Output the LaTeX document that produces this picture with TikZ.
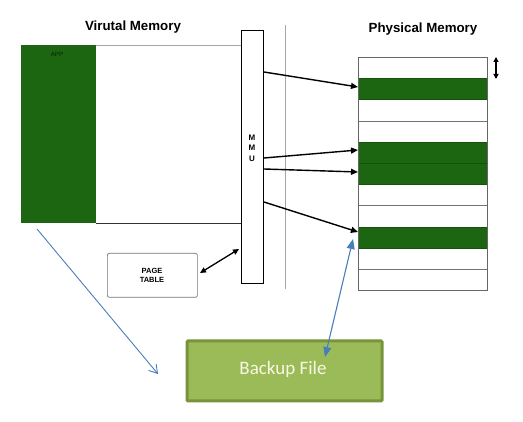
\documentclass[tikz,border=0pt]{standalone}
\usepackage{fontspec}
\setmainfont{Liberation Sans}
\newfontfamily\calib{Carlito}
\usetikzlibrary{arrows.meta}
\definecolor{pgreen}{RGB}{28,102,18}
\definecolor{bfill}{RGB}{155,187,89}
\definecolor{bdraw}{RGB}{119,147,60}
\definecolor{bblue}{RGB}{74,126,187}
\definecolor{btext}{RGB}{248,248,225}
\tikzset{
  title/.style={font=\bfseries\fontsize{13.3}{15}\selectfont, inner sep=0pt},
  blk/.style={black, line width=1.4pt, -{Triangle[length=7pt,width=6pt]}},
  memrow/.style={draw=black!55, line width=0.7pt, minimum width=129pt, minimum height=21.2pt, inner sep=0pt, anchor=north west},
  greenrow/.style={memrow, fill=pgreen, draw=pgreen!80!black},
  small/.style={font=\bfseries\fontsize{7.5}{9}\selectfont, inner sep=0pt, align=center},
}
\begin{document}
\begin{tikzpicture}[x=1pt,y=-1pt]
\useasboundingbox (0,0) rectangle (523,422);
% titles
\node[title] (vt) at (133,27) {Virutal Memory};
\node[title] (pt) at (423,29) {Physical Memory};
% virtual memory
\draw[black!35, line width=0.7pt] (96,45) -- (241,45);
\draw[black!80, line width=0.8pt] (96,223) -- (241,223);
\node[fill=pgreen, minimum width=75pt, minimum height=178pt, inner sep=0pt, anchor=north west] (app) at (21,45) {};
\node[font=\fontsize{6}{7}\selectfont, text=black!70!pgreen, inner sep=0pt] (applbl) at (57,54) {APP};
% MMU
\node[draw=black, line width=1.3pt, minimum width=22pt, minimum height=253pt, inner sep=0pt, anchor=north west, fill=white] (mmu) at (241,30) {};
\node[small, font=\bfseries\fontsize{8}{10.5}\selectfont] (mmulbl) at (252,148) {M\\M\\U};
% divider
\draw[black!35, line width=0.7pt] (285,25) -- (285,289);
% physical memory rows
\foreach \i in {0,...,10} {
  \pgfmathsetmacro{\yy}{57+21.2*\i}
  \node[memrow] (r\i) at (358,\yy) {};
}
\foreach \i in {1,4,5,8} {
  \pgfmathsetmacro{\yy}{57+21.2*\i}
  \node[greenrow] (g\i) at (358,\yy) {};
}
\draw[black!60, line width=0.8pt] (358,57) rectangle (487,290);
% size arrow
\coordinate (sa) at (496,57);
\coordinate (sb) at (496,79);
\draw[black, line width=1.2pt, {Triangle[length=5pt,width=5pt]}-{Triangle[length=5pt,width=5pt]}] (sa) -- (sb);
% MMU to physical arrows
\coordinate (m1) at (264,72);
\coordinate (m2) at (264,158);
\coordinate (m3) at (264,169);
\coordinate (m4) at (264,202);
\coordinate (p1) at (358,87);
\coordinate (p2) at (358,150);
\coordinate (p3) at (358,172);
\coordinate (p4) at (358,232);
\draw[blk] (m1) -- (p1);
\draw[blk] (m2) -- (p2);
\draw[blk] (m3) -- (p3);
\draw[blk] (m4) -- (p4);
% page table
\node[draw=black!55, line width=0.7pt, rounded corners=2pt, minimum width=90pt, minimum height=44pt, inner sep=0pt, anchor=north west] (ptab) at (107,253) {};
\node[small] (ptlbl) at (152,275.5) {PAGE\\TABLE};
\coordinate (pa) at (200,273);
\coordinate (pb) at (239,249);
\draw[black, line width=1.3pt, {Triangle[length=6pt,width=5.5pt]}-{Triangle[length=6pt,width=5.5pt]}] (pa) -- (pb);
% backup file
\node[draw=bdraw, fill=bfill, line width=3pt, minimum width=195pt, minimum height=60pt, inner sep=0pt, anchor=north west, rounded corners=1pt] (bk) at (185.5,339.5) {};
\node[font=\calib\fontsize{19}{22}\selectfont, text=btext, inner sep=0pt] (bklbl) at (283,369) {Backup File};
% blue arrows
\coordinate (ba) at (37,229);
\coordinate (bb) at (158,374);
\draw[bblue, line width=0.9pt, -{Straight Barb[length=8pt,width=10pt,line width=0.9pt]}] (ba) -- (bb);
\coordinate (bc) at (353,239);
\coordinate (bd) at (325,357);
\draw[bblue, line width=1.1pt, {Triangle[length=10pt,width=8pt]}-{Triangle[length=10pt,width=8pt]}] (bc) -- (bd);
\end{tikzpicture}
\end{document}
